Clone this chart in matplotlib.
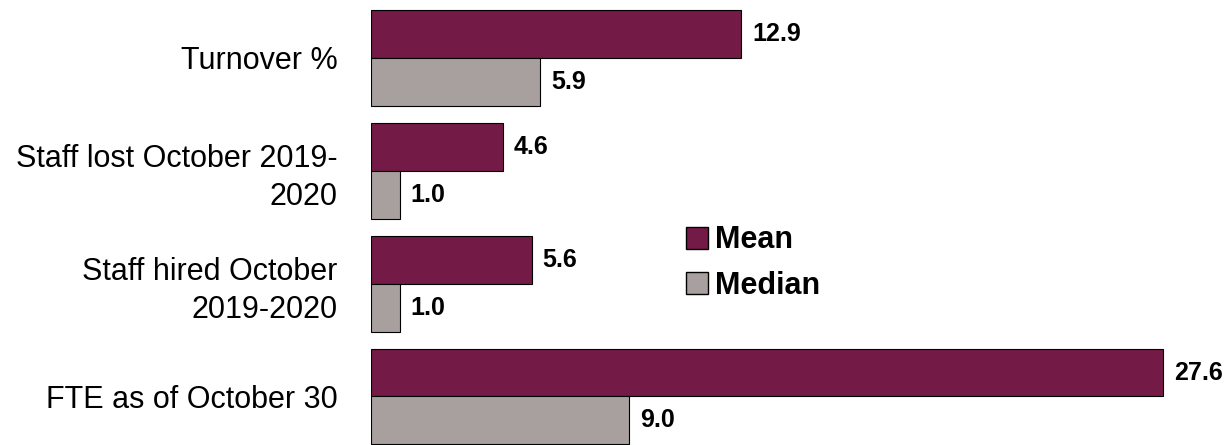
import matplotlib.pyplot as plt
from matplotlib.patches import Patch
import numpy as np

plt.rcParams['font.family'] = ['Liberation Sans', 'DejaVu Sans']

categories = ['Turnover %', 'Staff lost October 2019-\n2020',
              'Staff hired October\n2019-2020', 'FTE as of October 30']
mean_vals = [12.9, 4.6, 5.6, 27.6]
median_vals = [5.9, 1.0, 1.0, 9.0]

mean_color = '#741A46'
median_color = '#A7A09E'

fig = plt.figure(figsize=(12.25, 4.45), dpi=100)
ax = fig.add_axes([371 / 1225, 0, 1 - 371 / 1225, 1])

y = np.arange(len(categories))
h = 0.425
ax.barh(y - h / 2, mean_vals, height=h, color=mean_color, edgecolor='black', linewidth=0.8)
ax.barh(y + h / 2, median_vals, height=h, color=median_color, edgecolor='black', linewidth=0.8)

# value labels at the end of each bar
for yy, v in zip(y - h / 2, mean_vals):
    ax.annotate(f'{v:.1f}', (v, yy), xytext=(11, 0), textcoords='offset pixels',
                va='center', ha='left', fontsize=18, fontweight='bold')
for yy, v in zip(y + h / 2, median_vals):
    ax.annotate(f'{v:.1f}', (v, yy), xytext=(11, 0), textcoords='offset pixels',
                va='center', ha='left', fontsize=18, fontweight='bold')

ax.set_xlim(0, 29.76)
ax.set_ylim(3.43, -0.514)
ax.set_yticks(y)
ax.set_yticklabels(categories, fontsize=22, linespacing=1.35, ha='right')
ax.tick_params(axis='y', length=0, pad=24)
ax.set_xticks([])
for s in ax.spines.values():
    s.set_visible(False)

handles = [Patch(facecolor=mean_color, edgecolor='black', label='Mean'),
           Patch(facecolor=median_color, edgecolor='black', label='Median')]
fig.legend(handles=handles, loc='center left', bbox_to_anchor=(658 / 1225, 1 - 263 / 445),
           frameon=False, prop={'size': 22, 'weight': 'bold'},
           handlelength=0.75, handleheight=0.75, handletextpad=0.2, labelspacing=0.5)

fig.savefig('out.png', dpi=100)
